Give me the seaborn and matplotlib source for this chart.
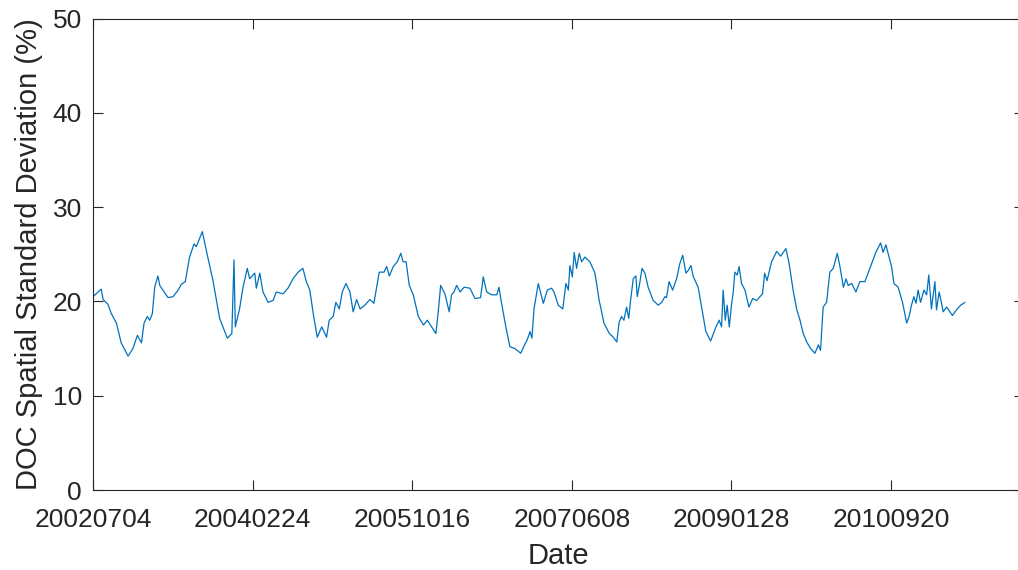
import matplotlib

matplotlib.use("Agg")
import matplotlib.pyplot as plt
import seaborn as sns

# day index since 2002-07-04
days = [
    0, 31, 38, 56, 69, 88, 106, 132, 150, 167, 182, 192, 204, 213, 223, 232,
    244, 251, 282, 301, 320, 332, 347, 363, 380, 388, 411, 426, 451, 476, 505,
    522, 530, 535, 551, 564, 580, 589, 608, 614, 627, 639, 658, 677, 689, 714,
    733, 752, 771, 789, 802, 815, 828, 843, 860, 878, 888, 903, 913, 926, 937,
    951, 966, 978, 991, 1004, 1022, 1041, 1056, 1076, 1094, 1104, 1114, 1129,
    1144, 1157, 1166, 1177, 1189, 1204, 1223, 1242, 1257, 1273, 1289, 1298,
    1307, 1323, 1339, 1348, 1357, 1367, 1380, 1395, 1417, 1436, 1457, 1467,
    1480, 1499, 1518, 1526, 1536, 1552, 1567, 1586, 1608, 1624, 1632, 1643,
    1650, 1658, 1674, 1693, 1708, 1724, 1733, 1749, 1766, 1778, 1787, 1793,
    1802, 1809, 1818, 1828, 1837, 1849, 1868, 1887, 1903, 1921, 1941, 1956,
    1969, 1978, 1987, 1996, 2006, 2014, 2021, 2031, 2041, 2046, 2054, 2064,
    2075, 2087, 2106, 2125, 2138, 2150, 2156, 2166, 2179, 2194, 2206, 2217,
    2229, 2238, 2248, 2257, 2275, 2288, 2304, 2322, 2342, 2354, 2363, 2369,
    2377, 2384, 2392, 2401, 2407, 2413, 2422, 2429, 2438, 2451, 2466, 2480,
    2495, 2517, 2525, 2534, 2551, 2570, 2585, 2605, 2617, 2632, 2645, 2658,
    2670, 2683, 2698, 2714, 2727, 2735, 2745, 2758, 2770, 2783, 2798, 2808,
    2821, 2831, 2839, 2852, 2868, 2883, 2902, 2918, 2933, 2943, 2961, 2970,
    2981, 2989, 3002, 3011, 3027, 3044, 3059, 3068, 3077, 3086, 3094, 3102,
    3111, 3124, 3134, 3142, 3152, 3165, 3171, 3181, 3190, 3196, 3209, 3231,
    3246, 3262, 3278,
]

doc_std = [
    20.5, 21.3, 20.2, 19.7, 18.7, 17.7, 15.6, 14.2, 15.0, 16.4, 15.6, 17.7,
    18.4, 18.0, 18.7, 21.5, 22.7, 21.7, 20.4, 20.5, 21.2, 21.8, 22.1, 24.7,
    26.1, 25.8, 27.4, 25.4, 22.2, 18.2, 16.1, 16.6, 24.4, 17.3, 19.2, 21.5,
    23.5, 22.4, 23.0, 21.4, 23.0, 21.0, 19.9, 20.1, 21.0, 20.8, 21.4, 22.4,
    23.1, 23.5, 22.1, 21.2, 18.7, 16.2, 17.3, 16.2, 18.0, 18.4, 19.9, 19.2,
    21.0, 21.9, 21.0, 18.9, 20.2, 19.2, 19.6, 20.2, 19.8, 23.1, 23.1, 23.7,
    22.7, 23.7, 24.2, 25.1, 24.2, 24.2, 21.7, 20.7, 18.4, 17.5, 18.0, 17.3,
    16.6, 18.9, 21.7, 20.8, 18.9, 20.7, 21.0, 21.7, 21.0, 21.5, 21.4, 20.3,
    20.4, 22.6, 21.0, 20.7, 20.7, 21.5, 19.8, 17.3, 15.2, 15.0, 14.5, 15.5,
    15.9, 16.8, 16.1, 19.2, 21.9, 19.8, 21.2, 21.4, 21.0, 19.6, 19.2, 21.9,
    21.2, 23.8, 22.6, 25.2, 23.5, 25.1, 24.2, 24.7, 24.2, 23.0, 20.1, 17.7,
    16.6, 16.2, 15.7, 17.8, 18.4, 18.0, 19.4, 18.2, 20.1, 22.4, 22.7, 20.5,
    21.7, 23.5, 23.0, 21.5, 20.1, 19.6, 19.9, 20.5, 20.4, 22.1, 21.2, 22.4,
    24.0, 24.9, 23.0, 23.3, 23.8, 22.6, 21.5, 19.4, 16.8, 15.8, 17.3, 18.0,
    17.3, 21.2, 18.0, 19.6, 17.3, 19.8, 21.0, 23.1, 22.8, 23.7, 21.9, 21.2,
    19.4, 20.3, 20.1, 20.8, 23.0, 22.2, 24.2, 25.3, 24.8, 25.6, 24.0, 21.2,
    19.2, 18.0, 16.6, 15.7, 15.0, 14.5, 15.4, 14.8, 19.4, 19.9, 23.1, 23.5,
    25.1, 23.7, 21.5, 22.4, 21.7, 21.9, 21.0, 22.1, 22.1, 23.3, 24.4, 25.2,
    26.2, 25.2, 26.0, 25.1, 23.7, 21.9, 21.5, 19.8, 17.7, 18.4, 19.6, 20.5,
    19.8, 21.2, 19.9, 21.2, 20.7, 22.8, 19.2, 22.1, 19.1, 21.0, 19.8, 18.9,
    19.4, 18.5, 19.1, 19.6, 19.9,
]

tick_days = [0, 600, 1200, 1800, 2400, 3000]
tick_labels = ["20020704", "20040224", "20051016", "20070608", "20090128", "20100920"]

TEXT = "#262626"

sns.set_style("ticks")
plt.rcParams["font.family"] = ["Liberation Sans", "DejaVu Sans"]
plt.rcParams.update({
    "font.size": 19,
    "text.color": TEXT,
    "axes.labelcolor": TEXT,
    "axes.edgecolor": TEXT,
    "xtick.color": TEXT,
    "ytick.color": TEXT,
    "axes.linewidth": 0.8,
})

fig = plt.figure(figsize=(10.18, 5.70), dpi=100)
# right edge of the axes runs a little past the image, as in the reference
ax = fig.add_axes([93 / 1018, 80 / 570, 931 / 1018, 471.5 / 570])

sns.lineplot(x=days, y=doc_std, color="#0072BD", linewidth=0.9, ax=ax)

ax.set_xlim(0, 3500)
ax.set_ylim(0, 50)
ax.set_xticks(tick_days)
ax.set_xticklabels(tick_labels)
ax.set_yticks([0, 10, 20, 30, 40, 50])

for side in ["top", "right", "bottom", "left"]:
    ax.spines[side].set_visible(True)
ax.tick_params(direction="in", length=7, width=0.8, top=True, right=True,
               labelsize=19)
ax.tick_params(axis="x", pad=13)
ax.tick_params(axis="y", pad=8)

ax.set_xlabel("Date", fontsize=21, labelpad=7)
ax.set_ylabel("DOC Spatial Standard Deviation (%)", fontsize=21, labelpad=7)

fig.savefig("out.png", dpi=100)
